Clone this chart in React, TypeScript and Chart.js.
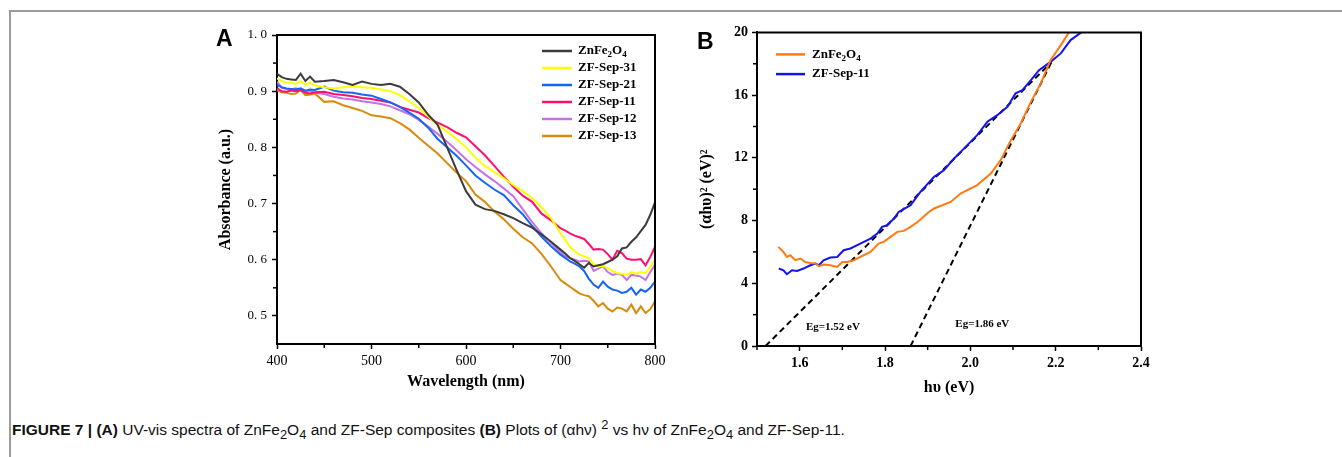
import React, { useEffect, useRef } from "react";
import { Chart, registerables } from "chart.js";

Chart.register(...registerables);

// ---------- Panel A data ----------
const wavelengths = [
  400, 405, 410, 415, 420, 425, 430, 435, 440,
  450, 460, 470, 480, 490, 500, 510, 520, 530, 540, 550, 560, 570, 580, 590, 600,
  610, 620, 630, 640, 650, 660, 670, 680, 690, 700,
  705, 710, 715, 720, 725, 730, 735, 740, 745, 750, 755, 760, 765, 770, 775, 780, 785, 790, 795, 800,
];
const absZnFe2O4 = [
  0.931, 0.925, 0.922, 0.921, 0.92, 0.931, 0.918, 0.926, 0.917,
  0.918, 0.92, 0.916, 0.911, 0.917, 0.913, 0.911, 0.913, 0.908, 0.895, 0.88, 0.858, 0.84, 0.8, 0.76, 0.722,
  0.698, 0.69, 0.687, 0.681, 0.674, 0.665, 0.657, 0.645, 0.632, 0.618,
  0.611, 0.603, 0.598, 0.592, 0.586, 0.594, 0.588, 0.59, 0.592, 0.596, 0.6, 0.606, 0.62, 0.622, 0.632, 0.64, 0.651, 0.662, 0.68, 0.702,
];
const absSep31 = [
  0.923, 0.918, 0.915, 0.915, 0.913, 0.918, 0.912, 0.915, 0.91,
  0.907, 0.905, 0.907, 0.909, 0.907, 0.906, 0.903, 0.9, 0.893, 0.882, 0.87, 0.855, 0.84, 0.828, 0.815, 0.8,
  0.782, 0.767, 0.756, 0.745, 0.733, 0.722, 0.71, 0.693, 0.674, 0.647,
  0.635, 0.623, 0.615, 0.609, 0.606, 0.603, 0.592, 0.588, 0.589, 0.585, 0.58, 0.576, 0.575, 0.573, 0.578, 0.575, 0.578, 0.576, 0.588, 0.6,
];
const absSep21 = [
  0.911, 0.907, 0.905, 0.904, 0.903, 0.905, 0.901, 0.903, 0.902,
  0.908, 0.901, 0.898, 0.897, 0.894, 0.892, 0.886, 0.88, 0.872, 0.862, 0.851, 0.835, 0.815, 0.8, 0.785, 0.768,
  0.75, 0.737, 0.725, 0.715, 0.697, 0.681, 0.66, 0.641, 0.624, 0.609,
  0.603, 0.597, 0.593, 0.588, 0.58, 0.566, 0.556, 0.55, 0.561, 0.552, 0.547, 0.545, 0.541, 0.543, 0.55, 0.538, 0.547, 0.543, 0.55, 0.561,
];
const absSep11 = [
  0.905, 0.9, 0.899, 0.901, 0.9, 0.902, 0.897, 0.896, 0.898,
  0.899, 0.895, 0.893, 0.891, 0.888, 0.886, 0.883, 0.88, 0.872, 0.867, 0.862, 0.852, 0.844, 0.836, 0.826, 0.818,
  0.802, 0.786, 0.767, 0.748, 0.73, 0.714, 0.703, 0.682, 0.67, 0.656,
  0.652, 0.647, 0.643, 0.64, 0.637, 0.628, 0.618, 0.619, 0.618, 0.61, 0.6, 0.616, 0.612, 0.602, 0.6, 0.6, 0.601, 0.59, 0.605, 0.623,
];
const absSep12 = [
  0.917, 0.906, 0.904, 0.903, 0.905, 0.902, 0.899, 0.901, 0.897,
  0.895, 0.89, 0.887, 0.885, 0.882, 0.88, 0.877, 0.873, 0.866, 0.859, 0.849, 0.837, 0.824, 0.81, 0.795, 0.779,
  0.765, 0.752, 0.74, 0.727, 0.713, 0.69, 0.667, 0.647, 0.63, 0.613,
  0.606, 0.603, 0.6, 0.597, 0.598, 0.597, 0.58, 0.584, 0.588, 0.578, 0.573, 0.575, 0.573, 0.564, 0.573, 0.572, 0.57, 0.564, 0.578, 0.591,
];
const absSep13 = [
  0.902, 0.898, 0.897, 0.895, 0.896, 0.902, 0.893, 0.894, 0.896,
  0.881, 0.882, 0.875, 0.87, 0.865, 0.857, 0.855, 0.852, 0.843, 0.832, 0.817, 0.803, 0.789, 0.772, 0.755, 0.74,
  0.716, 0.703, 0.686, 0.672, 0.655, 0.64, 0.629, 0.61, 0.588, 0.564,
  0.558, 0.552, 0.546, 0.54, 0.537, 0.535, 0.527, 0.517, 0.523, 0.513, 0.508, 0.515, 0.513, 0.508, 0.52, 0.505, 0.517, 0.505, 0.512, 0.526,
];
const seriesALabels = ["ZnFe_2O_4", "ZF-Sep-31", "ZF-Sep-21", "ZF-Sep-11", "ZF-Sep-12", "ZF-Sep-13"];
const seriesAValues = [absZnFe2O4, absSep31, absSep21, absSep11, absSep12, absSep13];
const seriesAColors = ["#3c3c3c", "#ffff00", "#1565f2", "#ff1070", "#c872e2", "#d98b0b"];

const xTicksA = [400, 500, 600, 700, 800];
const xMinorA = [450, 550, 650, 750];
const yTicksA = [0.5, 0.6, 0.7, 0.8, 0.9, 1.0];
const yMinorA = [0.55, 0.65, 0.75, 0.85, 0.95];

// ---------- Panel B data ----------
const hvZnFe2O4 = [
  1.55, 1.562, 1.57, 1.578, 1.59, 1.602, 1.613, 1.625, 1.637, 1.645, 1.656, 1.672, 1.688, 1.7, 1.711,
  1.727, 1.742, 1.766, 1.785, 1.797, 1.813, 1.829, 1.844, 1.86, 1.876, 1.903, 1.915, 1.954, 1.977,
  2.016, 2.048, 2.071, 2.095, 2.118, 2.142, 2.165, 2.188, 2.212, 2.231,
];
const ahvZnFe2O4 = [
  6.32, 6.0, 5.68, 5.79, 5.47, 5.58, 5.36, 5.3, 5.26, 5.09, 5.19, 5.15, 5.04, 5.36, 5.36,
  5.47, 5.68, 6.0, 6.53, 6.64, 6.96, 7.28, 7.34, 7.6, 7.91, 8.55, 8.77, 9.19, 9.72,
  10.26, 11.0, 11.85, 13.13, 14.19, 15.57, 16.75, 18.23, 19.19, 20.0,
];
const hvSep11 = [
  1.551, 1.562, 1.57, 1.582, 1.594, 1.609, 1.625, 1.637, 1.645, 1.656, 1.672, 1.688, 1.703, 1.719,
  1.742, 1.766, 1.782, 1.793, 1.805, 1.821, 1.832, 1.86, 1.883, 1.915, 1.938, 1.962, 1.993, 2.016,
  2.04, 2.063, 2.087, 2.106, 2.122, 2.142, 2.161, 2.188, 2.212, 2.235, 2.26,
];
const ahvSep11 = [
  4.94, 4.83, 4.58, 4.83, 4.79, 4.94, 5.15, 5.26, 5.15, 5.47, 5.64, 5.68, 6.11, 6.22,
  6.53, 6.85, 7.17, 7.6, 7.7, 8.13, 8.55, 8.98, 9.83, 10.79, 11.21, 11.96, 12.81, 13.45,
  14.3, 14.72, 15.25, 16.11, 16.32, 16.96, 17.59, 18.12, 18.66, 19.51, 20.0,
];
const fit1Hv = [1.52, 2.19];
const fit1Val = [0, 18.1];
const fit2Hv = [1.86, 2.19];
const fit2Val = [0, 18.1];
const egTexts = ["Eg=1.52 eV", "Eg=1.86 eV"];

const xTicksB = [1.6, 1.8, 2.0, 2.2, 2.4];
const xMinorB = [1.5, 1.7, 1.9, 2.1, 2.3];
const yTicksB = [0, 4, 8, 12, 16, 20];
const yMinorB = [2, 6, 10, 14, 18];

const SERIF = "'Liberation Serif', 'Times New Roman', serif";

function drawRich(ctx: CanvasRenderingContext2D, text: string, x: number, y: number, size: number) {
  const parts: { t: string; sub: boolean }[] = [];
  let buf = "";
  for (let i = 0; i < text.length; i++) {
    if (text[i] === "_" && i + 1 < text.length) {
      if (buf) parts.push({ t: buf, sub: false });
      buf = "";
      parts.push({ t: text[i + 1], sub: true });
      i++;
    } else buf += text[i];
  }
  if (buf) parts.push({ t: buf, sub: false });
  ctx.textBaseline = "middle";
  ctx.textAlign = "left";
  ctx.fillStyle = "#000";
  let cx = x;
  for (const p of parts) {
    const s = p.sub ? Math.round(size * 0.68) : size;
    ctx.font = `bold ${s}px ${SERIF}`;
    ctx.fillText(p.t, cx, p.sub ? y + size * 0.3 : y);
    cx += ctx.measureText(p.t).width;
  }
}

const framePlugin = {
  id: "frameTicks",
  afterDatasetsDraw(chart: any, _a: any, opts: any) {
    const { ctx, chartArea: a, scales } = chart;
    ctx.save();
    ctx.strokeStyle = "#000";
    ctx.setLineDash([]);
    ctx.lineWidth = 2;
    ctx.beginPath();
    ctx.moveTo(a.left - 1, a.top);
    ctx.lineTo(a.right, a.top);
    ctx.lineTo(a.right, a.bottom + 1);
    ctx.stroke();
    ctx.lineWidth = 1.5;
    for (const v of opts.xMinor || []) {
      const px = scales.x.getPixelForValue(v);
      ctx.beginPath();
      ctx.moveTo(px, a.bottom);
      ctx.lineTo(px, a.bottom + 4);
      ctx.stroke();
    }
    for (const v of opts.yMinor || []) {
      const py = scales.y.getPixelForValue(v);
      ctx.beginPath();
      ctx.moveTo(a.left, py);
      ctx.lineTo(a.left - 4, py);
      ctx.stroke();
    }
    ctx.restore();
  },
};

const legendPlugin = {
  id: "insideLegend",
  afterDraw(chart: any, _a: any, opts: any) {
    const { ctx, chartArea: a } = chart;
    const x0 = opts.fromRight ? a.right - opts.dx : a.left + opts.dx;
    let y = a.top + opts.dy;
    ctx.save();
    for (const ds of chart.data.datasets) {
      if (ds.noLegend) continue;
      ctx.strokeStyle = ds.borderColor;
      ctx.lineWidth = 2.5;
      ctx.setLineDash([]);
      ctx.beginPath();
      ctx.moveTo(x0, y);
      ctx.lineTo(x0 + opts.lineLen, y);
      ctx.stroke();
      drawRich(ctx, ds.label, x0 + opts.lineLen + opts.gap, y, opts.fontSize);
      y += opts.spacing;
    }
    ctx.restore();
  },
};

const notesPlugin = {
  id: "notes",
  afterDraw(chart: any, _a: any, opts: any) {
    if (!opts.items) return;
    const { ctx, scales } = chart;
    ctx.save();
    ctx.font = `bold 11px ${SERIF}`;
    ctx.fillStyle = "#000";
    ctx.textAlign = "center";
    ctx.textBaseline = "middle";
    for (const it of opts.items) {
      ctx.fillText(it.text, scales.x.getPixelForValue(it.x), scales.y.getPixelForValue(it.y));
    }
    ctx.restore();
  },
};

function makeAxis(o: {
  min: number; max: number; ticks: number[]; title: string; fmt: (v: number) => string;
  bold: boolean; labelSize: number; fit: number; horizontal: boolean; pad: number;
}) {
  return {
    type: "linear",
    min: o.min,
    max: o.max,
    afterBuildTicks: (s: any) => {
      s.ticks = o.ticks.map((v) => ({ value: v }));
    },
    afterFit: (s: any) => {
      if (o.horizontal) s.height = o.fit;
      else s.width = o.fit;
    },
    ticks: {
      autoSkip: false,
      maxRotation: 0,
      minRotation: 0,
      padding: o.pad,
      color: "#000",
      font: { family: SERIF, size: o.labelSize, weight: o.bold ? "bold" : "normal" },
      callback: (v: any) => o.fmt(Number(v)),
    },
    grid: {
      display: true,
      drawOnChartArea: false,
      drawTicks: true,
      tickLength: 5,
      tickWidth: 1.5,
      tickColor: "#000",
    },
    border: { display: true, color: "#000", width: 2 },
    title: {
      display: true,
      text: o.title,
      color: "#000",
      padding: { top: 4, bottom: 4 },
      font: { family: SERIF, size: 16, weight: "bold" },
    },
  };
}

function ChartA() {
  const ref = useRef<HTMLCanvasElement>(null);
  useEffect(() => {
    const datasets = seriesAValues.map((vals, i) => ({
      label: seriesALabels[i],
      data: wavelengths.map((w, j) => ({ x: w, y: vals[j] })),
      borderColor: seriesAColors[i],
      borderWidth: 2,
      pointRadius: 0,
      fill: false,
      tension: 0,
    }));
    const chart = new Chart(ref.current as HTMLCanvasElement, {
      type: "line",
      data: { datasets } as any,
      plugins: [framePlugin, legendPlugin],
      options: {
        responsive: false,
        animation: false,
        layout: { padding: { left: 32, right: 25, top: 15, bottom: 5 } },
        scales: {
          x: makeAxis({
            min: 400, max: 800, ticks: xTicksA, title: "Wavelength (nm)", fmt: (v) => String(v),
            bold: false, labelSize: 14, fit: 51, horizontal: true, pad: 4,
          }),
          y: makeAxis({
            min: 0.45, max: 1.0, ticks: yTicksA, title: "Absorbance (a.u.)",
            fmt: (v) => v.toFixed(1).replace(".", ". "),
            bold: false, labelSize: 13, fit: 65, horizontal: false, pad: 5,
          }),
        } as any,
        plugins: {
          legend: { display: false },
          tooltip: { enabled: false },
          frameTicks: { xMinor: xMinorA, yMinor: yMinorA },
          insideLegend: { fromRight: true, dx: 113, dy: 16, lineLen: 30, gap: 6, spacing: 17, fontSize: 13 },
        } as any,
      },
    });
    return () => chart.destroy();
  }, []);
  return (
    <canvas
      ref={ref}
      width={500}
      height={380}
      style={{ position: "absolute", left: 180, top: 20, width: 500, height: 380 }}
    />
  );
}

function ChartB() {
  const ref = useRef<HTMLCanvasElement>(null);
  useEffect(() => {
    const datasets = [
      {
        label: "ZnFe_2O_4",
        data: hvZnFe2O4.map((x, j) => ({ x, y: ahvZnFe2O4[j] })),
        borderColor: "#ff7a10",
        borderWidth: 2,
        pointRadius: 0,
        tension: 0,
      },
      {
        label: "ZF-Sep-11",
        data: hvSep11.map((x, j) => ({ x, y: ahvSep11[j] })),
        borderColor: "#1414f0",
        borderWidth: 2,
        pointRadius: 0,
        tension: 0,
      },
      {
        label: "fit1",
        noLegend: true,
        data: fit1Hv.map((x, j) => ({ x, y: fit1Val[j] })),
        borderColor: "#000",
        borderWidth: 2,
        borderDash: [6, 4],
        pointRadius: 0,
      },
      {
        label: "fit2",
        noLegend: true,
        data: fit2Hv.map((x, j) => ({ x, y: fit2Val[j] })),
        borderColor: "#000",
        borderWidth: 2,
        borderDash: [6, 4],
        pointRadius: 0,
      },
    ];
    const chart = new Chart(ref.current as HTMLCanvasElement, {
      type: "line",
      data: { datasets } as any,
      plugins: [framePlugin, legendPlugin, notesPlugin],
      options: {
        responsive: false,
        animation: false,
        layout: { padding: { left: 3, right: 29, top: 12, bottom: 9 } },
        scales: {
          x: makeAxis({
            min: 1.5, max: 2.4, ticks: xTicksB, title: "h\u03c5 (eV)", fmt: (v) => v.toFixed(1),
            bold: true, labelSize: 14, fit: 55, horizontal: true, pad: 4,
          }),
          y: makeAxis({
            min: 0, max: 20, ticks: yTicksB, title: "(\u03b1h\u03c5)\u00b2 (eV)\u00b2", fmt: (v) => String(v),
            bold: true, labelSize: 14, fit: 64, horizontal: false, pad: 4,
          }),
        } as any,
        plugins: {
          legend: { display: false },
          tooltip: { enabled: false },
          frameTicks: { xMinor: xMinorB, yMinor: yMinorB },
          insideLegend: { fromRight: false, dx: 19, dy: 22, lineLen: 29, gap: 7, spacing: 19.7, fontSize: 13 },
          notes: {
            items: [
              { x: 1.678, y: 1.21, text: egTexts[0] },
              { x: 2.028, y: 1.38, text: egTexts[1] },
            ],
          },
        } as any,
      },
    });
    return () => chart.destroy();
  }, []);
  return (
    <canvas
      ref={ref}
      width={480}
      height={390}
      style={{ position: "absolute", left: 690, top: 20, width: 480, height: 390 }}
    />
  );
}

export default function App() {
  const panelLabel: React.CSSProperties = {
    position: "absolute",
    fontFamily: "'Liberation Sans', Arial, sans-serif",
    fontWeight: "bold",
    fontSize: 23,
    lineHeight: "23px",
    color: "#000",
  };
  return (
    <div
      style={{
        position: "absolute",
        left: 0,
        top: 0,
        width: 1342,
        height: 457,
        overflow: "hidden",
        background: "#fff",
      }}
    >
      <div
        style={{
          position: "absolute",
          left: 9,
          top: 10,
          width: 1340,
          height: 450,
          borderTop: "2px solid #9c9c9c",
          borderLeft: "2px solid #9c9c9c",
        }}
      />
      <ChartA />
      <ChartB />
      <div style={{ ...panelLabel, left: 216, top: 27 }}>A</div>
      <div style={{ ...panelLabel, left: 697, top: 30 }}>B</div>
      <div
        style={{
          position: "absolute",
          left: 12,
          top: 416,
          whiteSpace: "nowrap",
          fontFamily: "'Liberation Sans Narrow', 'Arial Narrow', 'Liberation Sans', sans-serif",
          fontSize: 15.5,
          lineHeight: "18px",
          color: "#111",
        }}
      >
        <b>FIGURE 7 | (A)</b> UV-vis spectra of ZnFe<sub>2</sub>O<sub>4</sub> and ZF-Sep composites <b>(B)</b> Plots of
        (αhν) <sup>2</sup> vs hν of ZnFe<sub>2</sub>O<sub>4</sub> and ZF-Sep-11.
      </div>
    </div>
  );
}
